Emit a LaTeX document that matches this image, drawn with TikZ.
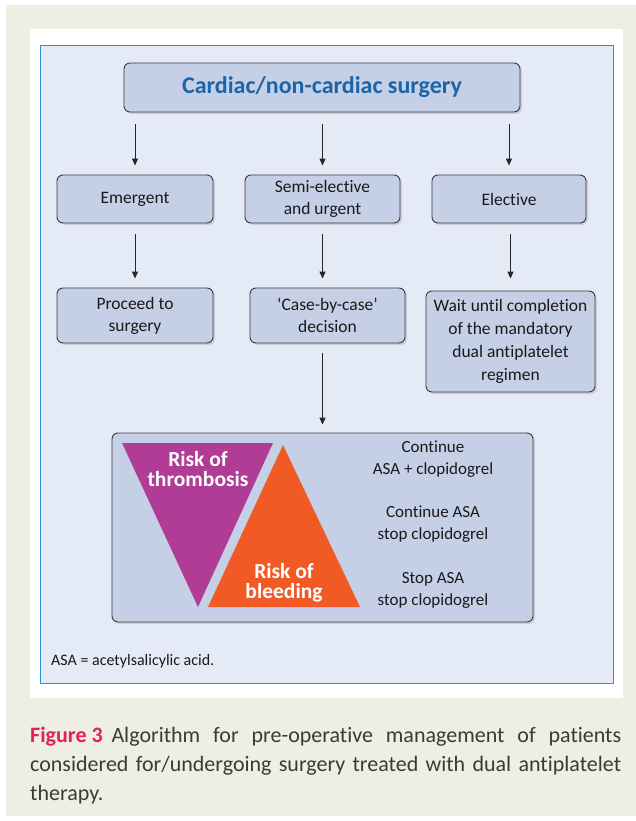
\documentclass[tikz,border=0pt]{standalone}
\usepackage{fontspec}
\setmainfont{Carlito}[Ligatures=NoCommon]
\usetikzlibrary{shadows,arrows.meta}
\definecolor{beige}{HTML}{EEEEE3}
\definecolor{panelblue}{HTML}{E4EAF6}
\definecolor{panelborder}{HTML}{2A93D5}
\definecolor{boxfill}{HTML}{C5D0E7}
\definecolor{boxborder}{HTML}{3A3A3A}
\definecolor{titleblue}{HTML}{1B64A8}
\definecolor{magentatri}{HTML}{B03C95}
\definecolor{orangetri}{HTML}{F15A25}
\definecolor{figred}{HTML}{E2215B}
\definecolor{captiongray}{HTML}{3A3A3A}
\tikzset{
  flowbox/.style={draw=boxborder, line width=0.9pt, fill=boxfill, rounded corners=6pt,
    align=center, inner sep=2pt, text=black!90,
    font=\fontsize{17.5}{22}\selectfont,
    drop shadow={opacity=0.25, shadow xshift=2pt, shadow yshift=-2pt}},
  flowarrow/.style={line width=1pt, draw=black!85, -{Triangle[length=7pt,width=6pt]}},
  tritext/.style={text=white, align=center, font=\bfseries\fontsize{21.5}{20}\selectfont},
  opttext/.style={align=center, text=black!90, font=\fontsize{17}{22}\selectfont}
}
\begin{document}
\begin{tikzpicture}[x=1pt,y=-1pt]
\useasboundingbox (0,0) rectangle (636,821);
% frames
\fill[beige] (6,5) rectangle (636,816);
\fill[white] (30,29) rectangle (623,698);
\draw[panelborder, line width=1pt, fill=panelblue] (40,46) rectangle (613,683);
% boxes
\node[flowbox, minimum width=396pt, minimum height=49pt,
  font=\bfseries\fontsize{24}{25}\selectfont, text=titleblue] (top) at (322,87.5) {Cardiac/non-cardiac surgery};
\node[flowbox, minimum width=156pt, minimum height=48pt] (emer) at (135,199) {Emergent};
\node[flowbox, minimum width=155pt, minimum height=48pt] (semi) at (322.5,199) {Semi-elective\\and urgent};
\node[flowbox, minimum width=154pt, minimum height=48pt] (elec) at (509,199) {Elective};
\node[flowbox, minimum width=156pt, minimum height=55pt] (proc) at (135,315.5) {Proceed to\\surgery};
\node[flowbox, minimum width=155pt, minimum height=55pt] (case) at (327.5,315.5) {‘Case-by-case’\\decision};
\node[flowbox, minimum width=169pt, minimum height=101pt, font=\fontsize{17.5}{23}\selectfont] (wait) at (510.5,341.5) {Wait until completion\\of the mandatory\\dual antiplatelet\\regimen};
\node[flowbox, minimum width=421pt, minimum height=189pt] (big) at (322.5,527.5) {};
% arrows
\draw[flowarrow, shorten <=12pt, shorten >=9pt] (top.south -| emer.north) -- (emer.north);
\draw[flowarrow, shorten <=12pt, shorten >=9pt] (top.south -| semi.north) -- (semi.north);
\draw[flowarrow, shorten <=12pt, shorten >=9pt] (top.south -| elec.north) -- (elec.north);
\draw[flowarrow, shorten <=11pt, shorten >=9pt] (emer.south) -- (proc.north);
\draw[flowarrow, shorten <=11pt, shorten >=9pt] (semi.south) -- (case.north -| semi.south);
\draw[flowarrow, shorten <=11pt, shorten >=12pt] (elec.south -| wait.north) -- (wait.north);
\draw[flowarrow, shorten <=10pt, shorten >=8pt] (case.south -| semi.south) -- (big.north -| semi.south);
% triangles
\fill[magentatri] (122,443) -- (273,443) -- (198,607) -- cycle;
\fill[orangetri] (283,445) -- (360,607) -- (208,607) -- cycle;
\node[tritext] (thr) at (198,469) {Risk of\\thrombosis};
\node[tritext] (ble) at (284,583) {Risk of\\bleeding};
% options
\node[opttext] (opt1) at (433,459) {Continue\\ASA + clopidogrel};
\node[opttext] (opt2) at (433,524.5) {Continue ASA\\stop clopidogrel};
\node[opttext] (opt3) at (433,590) {Stop ASA\\stop clopidogrel};
% footnote
\node[anchor=west, inner sep=0pt, text=black!90, font=\fontsize{16}{18}\selectfont] (foot) at (51,661) {ASA = acetylsalicylic acid.};
% caption
\node[anchor=north west, inner sep=0pt, text width=591pt, align=justify, text=captiongray,
  font=\fontsize{22}{29}\selectfont] (cap) at (30,726.5)
  {\hyphenpenalty=10000\mbox{\color{figred}\bfseries Figure 3}\hspace{0.4em}Algorithm for pre-operative management of patients\linebreak considered for/undergoing surgery treated with dual antiplatelet\linebreak therapy.};
\end{tikzpicture}
\end{document}
